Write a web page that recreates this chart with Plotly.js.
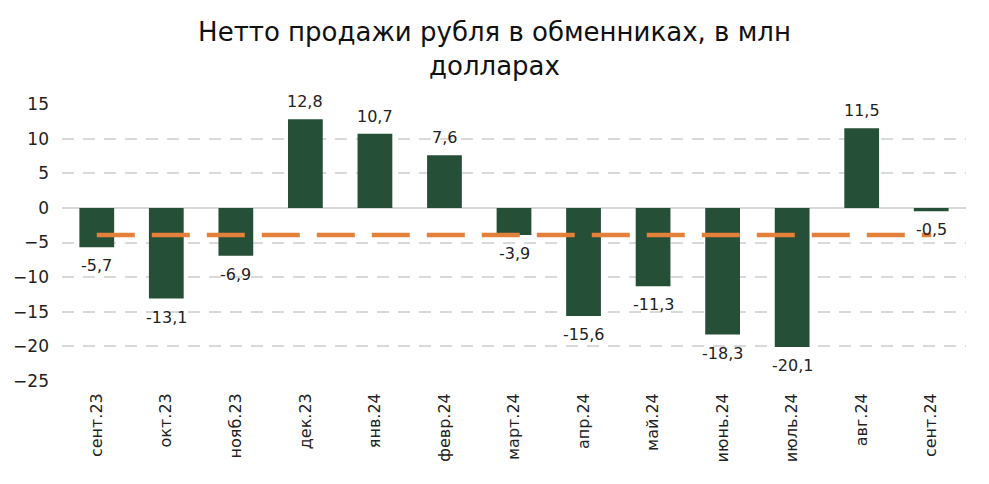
<!DOCTYPE html>
<html>
<head>
<meta charset="utf-8">
<script src="https://cdn.plot.ly/plotly-3.0.1.min.js"></script>
<style>
  html, body { margin: 0; padding: 0; background: #fff; }
  #chart { width: 989px; height: 484px; }
</style>
</head>
<body>
<div id="chart"></div>
<script>
var months = ["сент.23", "окт.23", "нояб.23", "дек.23", "янв.24", "февр.24", "март.24",
              "апр.24", "май.24", "июнь.24", "июль.24", "авг.24", "сент.24"];
var netSales = [-5.7, -13.1, -6.9, 12.8, 10.7, 7.6, -3.9, -15.6, -11.3, -18.3, -20.1, 11.5, -0.5];
var average = [-3.9, -3.9, -3.9, -3.9, -3.9, -3.9, -3.9, -3.9, -3.9, -3.9, -3.9, -3.9, -3.9];

var FONT = "DejaVu Sans, sans-serif";

var bars = {
    x: months,
    y: netSales,
    type: "bar",
    marker: {color: "#264f38"},
    width: 0.5,
    hoverinfo: "x+y"
};

var avgLine = {
    x: months,
    y: average,
    type: "scatter",
    mode: "lines",
    line: {color: "#e3813a", width: 4.5, dash: "38px,17px"},
    hoverinfo: "skip"
};

// value labels a bit away from the bar ends
var annots = netSales.map(function (v, i) {
    return {
        x: months[i],
        y: v,
        text: v.toFixed(1).replace(".", ","),
        showarrow: false,
        xanchor: "center",
        yanchor: v >= 0 ? "bottom" : "top",
        yshift: v >= 0 ? 6 : -7,
        font: {family: FONT, size: 16, color: "#222"}
    };
});

var layout = {
    width: 989,
    height: 484,
    margin: {l: 62, r: 23, t: 104, b: 103},
    paper_bgcolor: "#fff",
    plot_bgcolor: "#fff",
    showlegend: false,
    bargap: 0.5,
    font: {family: FONT, color: "#222"},
    title: {
        text: "Нетто продажи рубля в обменниках, в млн<br>долларах",
        x: 0.5,
        xanchor: "center",
        yref: "container",
        y: 0.915,
        yanchor: "middle",
        font: {family: FONT, size: 26, color: "#111"}
    },
    annotations: annots,
    xaxis: {
        tickangle: -90,
        tickfont: {size: 16, color: "#222"},
        showgrid: false,
        showline: false,
        ticks: "",
        ticklabelstandoff: 8
    },
    yaxis: {
        range: [-25, 15],
        dtick: 5,
        tickfont: {size: 17, color: "#222"},
        showgrid: true,
        gridcolor: "#d9d9d9",
        gridwidth: 1.5,
        griddash: "12px,9px",
        zeroline: true,
        zerolinecolor: "#d9d9d9",
        zerolinewidth: 1.5,
        ticks: "",
        ticklabelstandoff: 12
    }
};

Plotly.newPlot("chart", [bars, avgLine], layout, {displayModeBar: false});
</script>
</body>
</html>
